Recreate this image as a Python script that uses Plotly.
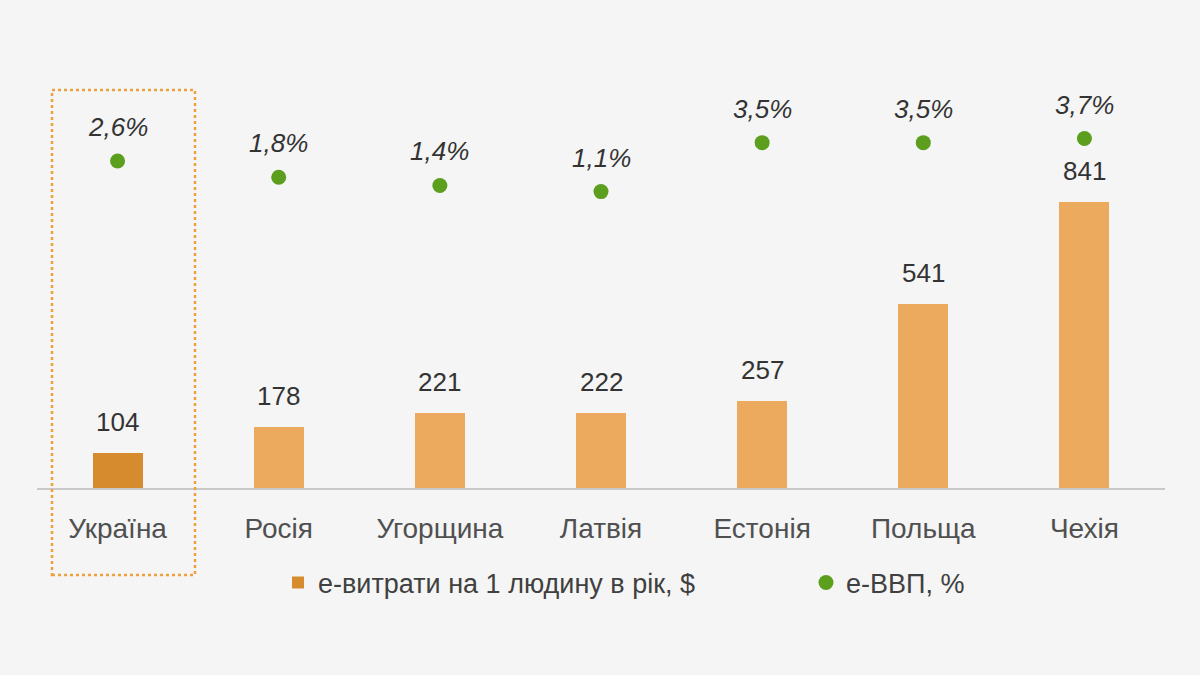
import plotly.graph_objects as go

categories = ["Україна", "Росія", "Угорщина", "Латвія", "Естонія", "Польща", "Чехія"]
spend = [104, 178, 221, 222, 257, 541, 841]
egdp = [2.6, 1.8, 1.4, 1.1, 3.5, 3.5, 3.7]
egdp_labels = ["2,6%", "1,8%", "1,4%", "1,1%", "3,5%", "3,5%", "3,7%"]
spend_name = "е-витрати на 1 людину в рік, $"
egdp_name = "е-ВВП, %"

FONT = "Liberation Sans Narrow, Arial Narrow, Liberation Sans, Arial, sans-serif"
bar_colors = ["#d68b2e"] + ["#ebaa5d"] * (len(categories) - 1)
green = "#5c9e1e"

W, H = 1200, 675
ML, MR, MT, MB = 37, 35, 80, 187
PW, PH = W - ML - MR, H - MT - MB


def px_x(p):
    return (p - ML) / PW


def px_y(p):
    return (H - MB - p) / PH


fig = go.Figure()
fig.add_trace(go.Bar(
    x=list(range(len(categories))), y=spend, name=spend_name,
    marker=dict(color=bar_colors, line=dict(width=0)), width=0.31,
    yaxis="y", legend="legend",
))
fig.add_trace(go.Scatter(
    x=list(range(len(categories))), y=egdp, name=egdp_name, mode="markers",
    marker=dict(color=green, size=15), yaxis="y2", legend="legend2",
))

annotations = []
for i, v in enumerate(spend):
    annotations.append(dict(x=i, y=v, xref="x", yref="y", text=str(v), showarrow=False,
                            yshift=31, font=dict(family=FONT, size=26, color="#333333")))
for i, v in enumerate(egdp):
    annotations.append(dict(x=i, y=v, xref="x", yref="y2", text="<i>" + egdp_labels[i] + "</i>",
                            showarrow=False, yshift=34,
                            font=dict(family=FONT, size=26, color="#333333")))

legend_font = dict(family=FONT, size=27, color="#404040")
fig.update_layout(
    width=W, height=H,
    paper_bgcolor="#f5f5f5", plot_bgcolor="#f5f5f5",
    margin=dict(l=ML, r=MR, t=MT, b=MB),
    bargap=0,
    showlegend=True,
    legend=dict(orientation="h", x=px_x(278), xanchor="left", y=px_y(583), yanchor="middle",
                font=legend_font, bgcolor="rgba(0,0,0,0)"),
    legend2=dict(orientation="h", x=px_x(806), xanchor="left", y=px_y(583), yanchor="middle",
                 font=legend_font, bgcolor="rgba(0,0,0,0)"),
    xaxis=dict(range=[-0.5, 6.5], tickmode="array", tickvals=list(range(len(categories))),
               ticktext=categories, showgrid=False, zeroline=False,
               showline=True, linecolor="#c9c9c9", linewidth=2, ticks="",
               ticklabelstandoff=14,
               tickfont=dict(family=FONT, size=28, color="#505050")),
    yaxis=dict(range=[0, 1200], visible=False, showgrid=False, zeroline=False),
    yaxis2=dict(range=[-13.43, 6.57], overlaying="y", visible=False, showgrid=False,
                zeroline=False),
    annotations=annotations,
    shapes=[dict(type="rect", xref="paper", yref="paper",
                 x0=px_x(52), x1=px_x(195), y0=px_y(575), y1=px_y(90),
                 line=dict(color="#eda03e", width=2.5, dash="dot"),
                 fillcolor="rgba(0,0,0,0)", layer="above")],
)

fig.write_html("out.html", config={"displayModeBar": False},
               post_script="document.body.style.margin='0';document.body.style.overflow='hidden';")
